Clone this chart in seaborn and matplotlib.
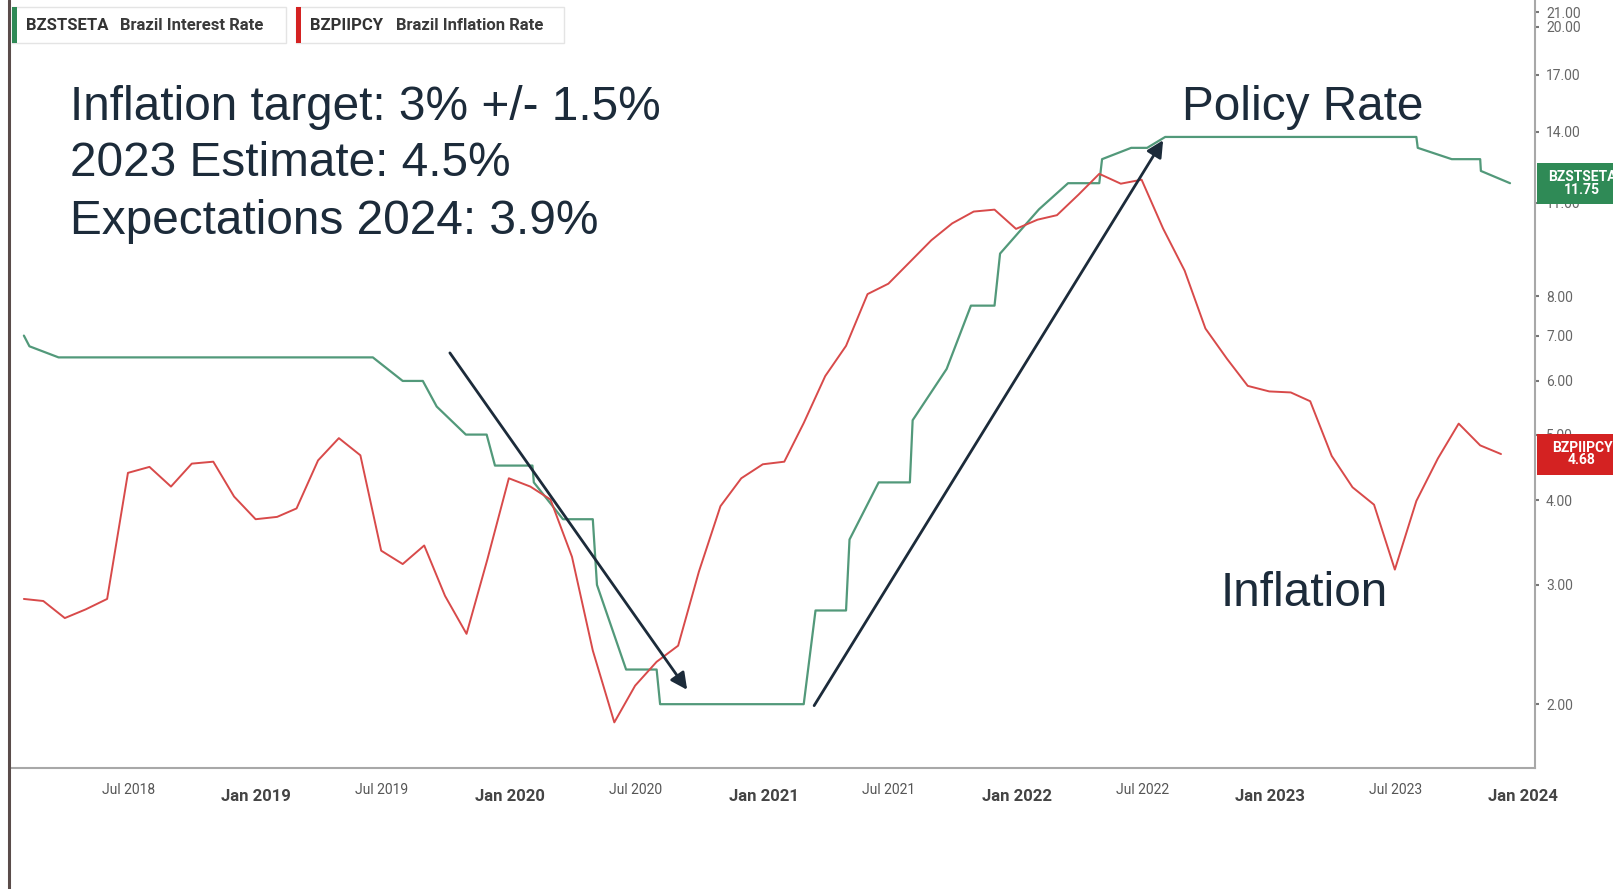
import matplotlib
matplotlib.use('Agg')
import matplotlib.pyplot as plt
import matplotlib.dates as mdates
from matplotlib.patches import Rectangle
from matplotlib.lines import Line2D
from matplotlib.ticker import FixedLocator, NullLocator, FuncFormatter
from matplotlib.transforms import blended_transform_factory
import pandas as pd
import seaborn as sns

# ---------------- data ----------------
# Brazil IPCA, 12-month inflation, monthly (Jan 2018 .. Nov 2023), plotted at month end
INFL_FIRST_MONTH = '2018-01-01'
INFL_VALUES = [
    2.86, 2.84, 2.68, 2.76, 2.86, 4.39, 4.48, 4.19, 4.53, 4.56, 4.05, 3.75,
    3.78, 3.89, 4.58, 4.94, 4.66, 3.37, 3.22, 3.43, 2.89, 2.54, 3.27, 4.31,
    4.19, 4.01, 3.30, 2.40, 1.88, 2.13, 2.31, 2.44, 3.14, 3.92, 4.31, 4.52,
    4.56, 5.20, 6.10, 6.76, 8.06, 8.35, 8.99, 9.68, 10.25, 10.67, 10.74, 10.06,
    10.38, 10.54, 11.30, 12.13, 11.73, 11.89, 10.07, 8.73, 7.17, 6.47, 5.90, 5.79,
    5.77, 5.60, 4.65, 4.18, 3.94, 3.16, 3.99, 4.61, 5.19, 4.82, 4.68,
]

# Selic policy rate, vertices as drawn
RATE_DATES = [
    '2018-01-31', '2018-02-08', '2018-03-22', '2019-06-18', '2019-07-31',
    '2019-08-29', '2019-09-18', '2019-10-30', '2019-11-29', '2019-12-11',
    '2020-02-03', '2020-02-05', '2020-03-18', '2020-04-30', '2020-05-06',
    '2020-06-17', '2020-07-31', '2020-08-05', '2021-02-28', '2021-03-17',
    '2021-04-30', '2021-05-05', '2021-06-16', '2021-07-31', '2021-08-04',
    '2021-09-22', '2021-10-27', '2021-11-30', '2021-12-08', '2022-02-02',
    '2022-03-16', '2022-04-30', '2022-05-04', '2022-06-15', '2022-07-08',
    '2022-08-03', '2023-07-31', '2023-08-02', '2023-09-20', '2023-10-31',
    '2023-11-01', '2023-12-13',
]
RATE_VALUES = [
    7.00, 6.75, 6.50, 6.50, 6.00,
    6.00, 5.50, 5.00, 5.00, 4.50,
    4.50, 4.25, 3.75, 3.75, 3.00,
    2.25, 2.25, 2.00, 2.00, 2.75,
    2.75, 3.50, 4.25, 4.25, 5.25,
    6.25, 7.75, 7.75, 9.25, 10.75,
    11.75, 11.75, 12.75, 13.25, 13.25,
    13.75, 13.75, 13.25, 12.75, 12.75,
    12.25, 11.75,
]

Y_TICKS = [2, 3, 4, 5, 6, 7, 8, 11, 14, 17, 20, 21]

NOTES = ['Inflation target: 3% +/- 1.5%', '2023 Estimate: 4.5%', 'Expectations 2024: 3.9%']

# ---------------- style ----------------
W, H = 1613, 889
GREEN = '#52997a'
RED = '#d84a4a'
BADGE_GREEN = '#2f8a56'
BADGE_RED = '#d42222'
NAVY = '#1c2b3a'
AXIS_GREY = '#a8a8a8'

sns.set_theme(style='white')
plt.rcParams['font.family'] = ['Roboto', 'DejaVu Sans']

infl_dates = pd.date_range(INFL_FIRST_MONTH, periods=len(INFL_VALUES), freq='MS') + pd.offsets.MonthEnd(0)
df_infl = pd.DataFrame({'date': infl_dates, 'value': INFL_VALUES})
df_rate = pd.DataFrame({'date': pd.to_datetime(RATE_DATES), 'value': RATE_VALUES})

fig = plt.figure(figsize=(W / 100, H / 100), dpi=100)
fig.patch.set_facecolor('white')
ax = fig.add_axes([10 / W, 1 - 768 / H, (1535 - 10) / W, 768 / H])

sns.lineplot(data=df_rate, x='date', y='value', ax=ax, color=GREEN, linewidth=1.6)
sns.lineplot(data=df_infl, x='date', y='value', ax=ax, color=RED, linewidth=1.4)

ax.set_yscale('log')
ax.set_ylim(1.61, 21.9)
ax.set_xlim(pd.Timestamp('2018-01-11'), pd.Timestamp('2024-01-18'))
ax.set_xlabel('')
ax.set_ylabel('')

# y axis on the right
ax.yaxis.tick_right()
ax.yaxis.set_major_locator(FixedLocator(Y_TICKS))
ax.yaxis.set_minor_locator(NullLocator())
ax.yaxis.set_major_formatter(FuncFormatter(lambda v, p: f'{v:.2f}'))
ax.tick_params(axis='y', which='major', direction='out', length=3, width=1.5,
               color='#777777', pad=5, labelsize=10, labelcolor='#666666')

# x axis: Jan bold, Jul regular
ax.xaxis.set_major_locator(mdates.MonthLocator(bymonth=1))
ax.xaxis.set_major_formatter(mdates.DateFormatter('Jan %Y'))
ax.xaxis.set_minor_locator(mdates.MonthLocator(bymonth=7))
ax.xaxis.set_minor_formatter(mdates.DateFormatter('Jul %Y'))
ax.tick_params(axis='x', which='major', direction='out', length=6, width=1,
               color=AXIS_GREY, pad=9, labelsize=12, labelcolor='#444444')
ax.tick_params(axis='x', which='minor', direction='out', length=6, width=1,
               color=AXIS_GREY, pad=5, labelsize=10, labelcolor='#555555')
plt.setp(ax.get_xticklabels(which='major'), fontweight='bold')

for side in ['top', 'left']:
    ax.spines[side].set_visible(False)
for side in ['bottom', 'right']:
    ax.spines[side].set_color(AXIS_GREY)
    ax.spines[side].set_linewidth(1.5)

# dark slide border on the left
fig.add_artist(Line2D([9 / W, 9 / W], [0, 1], transform=fig.transFigure,
                      color='#5a4c4a', linewidth=2.2))

# legend chips at the top
def px_rect(x, y, w, h, **kw):
    fig.add_artist(Rectangle((x / W, 1 - (y + h) / H), w / W, h / H,
                             transform=fig.transFigure, **kw))

def px_text(x, y, s, **kw):
    fig.text(x / W, 1 - y / H, s, **kw)

for x0, x1, color, code, name, name_x in [
        (12, 286, BADGE_GREEN, 'BZSTSETA', 'Brazil Interest Rate', 120),
        (296, 564, BADGE_RED, 'BZPIIPCY', 'Brazil Inflation Rate', 396)]:
    px_rect(x0, 7, x1 - x0, 36, facecolor='white', edgecolor='#e4e4e4', linewidth=1, zorder=5)
    px_rect(x0, 7, 5, 36, facecolor=color, edgecolor='none', zorder=6)
    px_text(x0 + 14, 25, code, fontsize=12, fontweight='bold', color='#333333', va='center', zorder=7)
    px_text(name_x, 25, name, fontsize=12, fontweight='bold', color='#3a3a3a', va='center', zorder=7)

# last-value badges on the right axis
blend = blended_transform_factory(ax.transAxes, ax.transData)
for code, series, color in [('BZSTSETA', RATE_VALUES, BADGE_GREEN),
                            ('BZPIIPCY', INFL_VALUES, BADGE_RED)]:
    v = series[-1]
    f = 1.072
    ax.add_patch(Rectangle((1.0013, v / f), 0.06, v * f - v / f, transform=blend,
                           facecolor=color, edgecolor='none', clip_on=False, zorder=10))
    ax.text(1.0308, v, f'{code}\n{v:.2f}', transform=blend, ha='center', va='center',
            color='white', fontsize=10, fontweight='bold', linespacing=0.9,
            clip_on=False, zorder=11)

# commentary text
big = dict(fontsize=34.4, color=NAVY, va='center', family=['Liberation Sans', 'DejaVu Sans'])
for i, line in enumerate(NOTES):
    px_text(70, 107 + 57 * i, line, **big)
px_text(1182, 107, 'Policy Rate', **big)
px_text(1221, 594, 'Inflation', **big)

# trend arrows
arrow_kw = dict(arrowstyle='-|>', color=NAVY, lw=2, mutation_scale=25, shrinkA=0, shrinkB=0)
ax.annotate('', xy=(pd.Timestamp('2020-09-13'), 2.10), xytext=(pd.Timestamp('2019-10-07'), 6.6),
            arrowprops=arrow_kw, zorder=8)
ax.annotate('', xy=(pd.Timestamp('2022-07-31'), 13.6), xytext=(pd.Timestamp('2021-03-15'), 1.99),
            arrowprops=arrow_kw, zorder=8)

fig.savefig('out.png', dpi=100, facecolor='white')
